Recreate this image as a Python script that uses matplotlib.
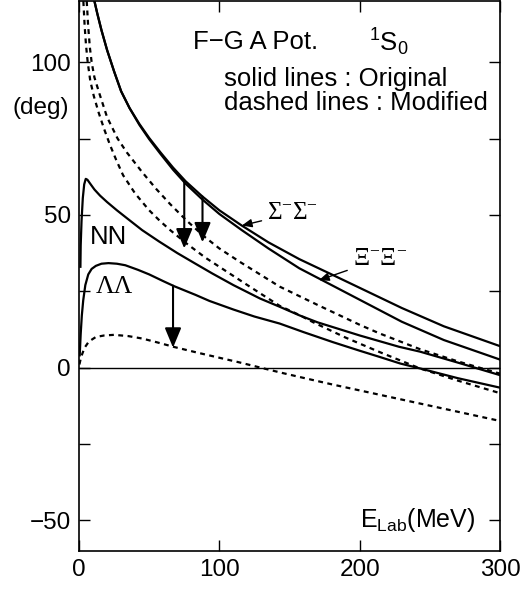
import numpy as np
import matplotlib.pyplot as plt

# phase shifts (deg) vs E_lab (MeV)
ss_x = [11, 13, 16, 20, 25, 30, 36, 43, 50, 58, 67, 76, 88, 100, 116, 135, 157, 180, 205, 230, 260, 300]
ss_y = [120, 116, 110.5, 104, 97, 90.5, 85, 79.8, 75.2, 70.5, 65.5, 61, 56, 51.5, 46.5, 41, 35.5, 30.5, 25, 19.5, 13.5, 7]

xx_x = [11, 13, 16, 20, 25, 30, 36, 43, 50, 58, 67, 76, 88, 100, 116, 135, 157, 180, 205, 230, 260, 300]
xx_y = [120, 116, 110.5, 104, 97, 90.5, 85, 79.5, 74.8, 70, 64.8, 60.2, 55, 50.3, 45, 39, 32.5, 27, 21, 15, 9, 2.6]

d1_x = [5.5, 6.5, 7.7, 9, 11, 14.7, 20, 27.5, 34, 45, 55, 65, 77, 89, 100, 115, 129, 143, 170, 200, 214, 243, 270, 300]
d1_y = [120, 112, 105, 100, 95, 89.5, 82, 75, 70.5, 64, 58.5, 53.5, 48, 43, 39, 34.5, 30.5, 26.5, 20.5, 14, 11.2, 6, 2, -2]

d2_x = [3.1, 4, 5, 6.2, 8, 10.5, 14, 18, 22, 26.5, 31.4, 40, 50, 57.7, 65, 77, 90, 105, 120, 143, 157, 167, 190, 214, 243, 270, 300]
d2_y = [120, 112, 105.5, 100, 94, 89, 83.5, 78, 73, 68, 63, 57, 51.5, 48, 45, 40.5, 36, 31.5, 27, 20.2, 17.2, 14.8, 9.8, 5.1, -0.3, -4.3, -8.4]

nn_x = [1, 1.2, 1.8, 2.7, 3.7, 4.8, 6, 8, 11, 15, 20, 27, 35, 45, 57, 70, 83, 95, 110, 129, 143, 157, 170, 200, 228, 243, 270, 300]
nn_y = [33, 40, 48, 55.5, 60, 61.8, 61.5, 60.2, 58.3, 56.3, 54.2, 51.5, 48.6, 45, 41.3, 37.5, 34, 30.8, 27, 22.6, 19.9, 17.1, 14.8, 10.5, 6.8, 5.2, 1.6, -2.5]

ll_x = [0.5, 1.2, 2, 3, 4.5, 6.6, 9, 12, 16, 21, 27, 33, 42, 50, 60, 68, 83, 93, 110, 125, 143, 160, 181, 200, 214, 229, 243, 270, 300]
ll_y = [4, 11, 17, 22, 27, 30.5, 32.3, 33.3, 34, 34.2, 34, 33.5, 32, 30.5, 28.3, 26.6, 23.8, 21.8, 19, 16.7, 14.4, 11.6, 8.3, 5.5, 3.5, 1.3, -0.3, -3.5, -6.6]

llm_x = [0.3, 1.5, 4, 7, 12, 18, 25, 35, 45, 56, 68, 85, 100, 115, 129, 145, 160, 180, 200, 220, 243, 270, 300]
llm_y = [1, 3.5, 6.5, 8.5, 10, 10.5, 10.7, 10.3, 9.5, 8.2, 6.7, 4.8, 3.2, 1.6, 0, -1.8, -3.4, -5.5, -7.5, -9.5, -11.8, -14.5, -17.5]

# shift arrows: x, start, end
arr_x = [75, 88, 67]
arr_from = [61, 56, 26.8]
arr_to = [39, 41, 6.5]

plt.rcParams['font.family'] = ['Liberation Sans', 'DejaVu Sans']
serif = ['Liberation Serif', 'DejaVu Serif']

fig = plt.figure(figsize=(5.31, 5.92), dpi=100)
ax = fig.add_axes([0.1488, 0.0698, 0.7928, 0.9282])

lw = 1.6
dash = (0, (2.2, 2.0))
ax.plot(ss_x, ss_y, 'k-', lw=lw)
ax.plot(xx_x, xx_y, 'k-', lw=lw)
ax.plot(nn_x, nn_y, 'k-', lw=lw)
ax.plot(ll_x, ll_y, 'k-', lw=lw)
ax.plot(d1_x, d1_y, 'k', ls=dash, lw=lw)
ax.plot(d2_x, d2_y, 'k', ls=dash, lw=lw)
ax.plot(llm_x, llm_y, 'k', ls=dash, lw=lw)
ax.axhline(0, color='k', lw=1)

for x, y0, y1 in zip(arr_x, arr_from, arr_to):
    ax.annotate('', xy=(x, y1), xytext=(x, y0),
                arrowprops=dict(arrowstyle='-|>,head_length=0.6,head_width=0.25',
                                mutation_scale=20, color='k', lw=1.5,
                                shrinkA=0, shrinkB=0))

ax.annotate(r'$\mathregular{Σ^{-}Σ^{-}}$', xy=(116, 46.5), xytext=(134, 50.5),
            fontsize=18, family=serif, va='center',
            arrowprops=dict(arrowstyle='-|>,head_length=0.6,head_width=0.25',
                            mutation_scale=10, color='k', lw=1, shrinkA=2, shrinkB=0))
ax.annotate(r'$\mathregular{Ξ^{-}Ξ^{-}}$', xy=(171, 28.6), xytext=(195, 35.5),
            fontsize=18, family=serif, va='center',
            arrowprops=dict(arrowstyle='-|>,head_length=0.6,head_width=0.25',
                            mutation_scale=10, color='k', lw=1, shrinkA=2, shrinkB=0))

fs = 18.5
ax.text(81.5, 106.6, 'F\u2212G A Pot.', fontsize=fs, va='center')
ax.text(207, 106.6, r'$\mathregular{^1S_0}$', fontsize=fs, va='center')
ax.text(103.3, 90.6, 'solid lines : Original\ndashed lines : Modified',
        fontsize=fs, va='center', linespacing=0.98)
ax.text(7.8, 42.8, 'NN', fontsize=fs, va='center')
ax.text(12, 26.4, 'ΛΛ', fontsize=fs, va='center', family=serif)
ax.text(200, -50, r'$\mathregular{E_{Lab}}$(MeV)', fontsize=18, va='center')
ax.text(-47.5, 85, '(deg)', fontsize=17.5, va='center', clip_on=False)

ax.set_xlim(0, 300)
ax.set_ylim(-60, 120)
ax.set_xticks([0, 100, 200, 300])
ax.set_yticks([-50, 0, 50, 100])
ax.set_yticks([-25, 25, 75], minor=True)
ax.tick_params(which='both', direction='in', top=True, right=True, length=8, width=1,
               labelsize=17.5, pad=6)
for s in ax.spines.values():
    s.set_linewidth(1.2)

fig.savefig('out.png', dpi=100)
